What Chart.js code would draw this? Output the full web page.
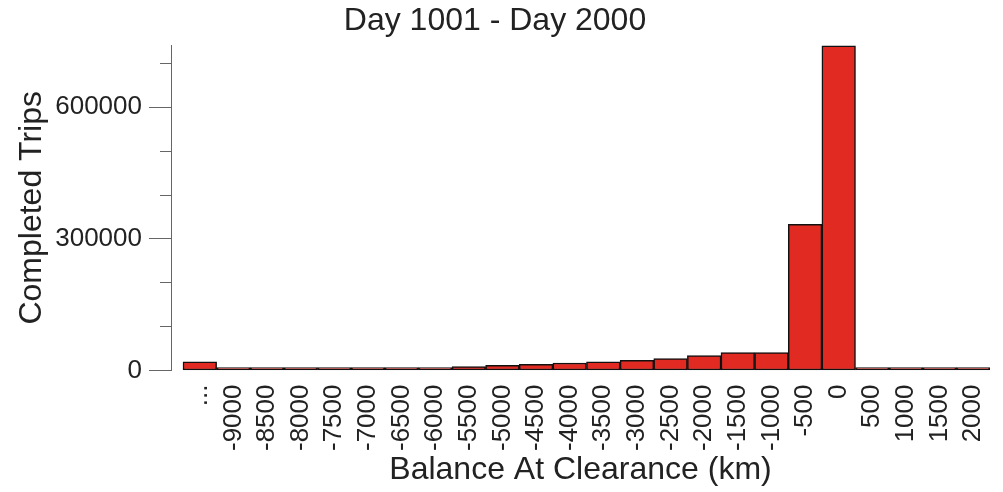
<!DOCTYPE html>
<html>
<head>
<meta charset="utf-8">
<script src="https://cdn.jsdelivr.net/npm/chart.js@4.4.0/dist/chart.umd.min.js"></script>
<style>
  html, body { margin: 0; padding: 0; background: #fff; }
  canvas { display: block; }
</style>
</head>
<body>
<canvas id="hist" width="1003" height="492"></canvas>
<script>
// DATI ----------------------------------------
var balanceLabels = ['...', '-9000', '-8500', '-8000', '-7500', '-7000', '-6500', '-6000',
  '-5500', '-5000', '-4500', '-4000', '-3500', '-3000', '-2500', '-2000', '-1500', '-1000',
  '-500', '0', '500', '1000', '1500', '2000'];
var completedTrips = [20000, 1000, 1500, 2000, 2500, 3500, 4500, 6500,
  9000, 12000, 14000, 17000, 20000, 23000, 27000, 34000, 41000, 41000,
  333000, 740000, 1200, 600, 300, 200];
var yLabelTicks = [0, 300000, 600000];
var yMinorStep = 100000;
var yMax = 742000;

var textColor = '#222';
var axisColor = '#666';
var fontFamily = '"Liberation Sans", Arial, sans-serif';

// GRAFICO ----------------------------------------
var ctx = document.getElementById('hist');
var chart = new Chart(ctx, {
  type: 'bar',
  data: {
    datasets: [{
      data: balanceLabels.map(function(l, i){ return {x: i, y: completedTrips[i]}; }),
      backgroundColor: '#e12a22',
      borderColor: '#111',
      borderWidth: 1.5,
      borderSkipped: false,
      minBarLength: 3,
      categoryPercentage: 1,
      barPercentage: 1
    }]
  },
  options: {
    responsive: false,
    animation: false,
    layout: { padding: { top: 0, right: 13, bottom: 0, left: 0 } },
    plugins: {
      legend: { display: false },
      tooltip: { enabled: false },
      title: {
        display: true,
        text: 'Day 1001 - Day 2000',
        color: textColor,
        font: { family: fontFamily, size: 32, weight: 'normal' },
        padding: { top: 2, bottom: 4.6 }
      }
    },
    scales: {
      x: {
        type: 'linear',
        offset: false,
        min: -0.857,
        max: balanceLabels.length - 0.5,
        grid: { display: false, drawTicks: false },
        border: { display: false },
        afterBuildTicks: function(scale){
          scale.ticks = balanceLabels.map(function(l, i){ return {value: i}; });
        },
        afterFit: function(scale){
          scale.height = 121.5;
          scale.paddingLeft = 0;
          scale.paddingRight = 0;
        },
        ticks: {
          autoSkip: false,
          minRotation: 90,
          maxRotation: 90,
          padding: 14,
          color: textColor,
          font: { family: fontFamily, size: 26 },
          callback: function(v){ return balanceLabels[v]; }
        },
        title: {
          display: true,
          text: 'Balance At Clearance (km)',
          color: textColor,
          font: { family: fontFamily, size: 32 },
          padding: { top: 2, bottom: 3 }
        }
      },
      y: {
        min: 0,
        max: yMax,
        border: { display: true, color: axisColor, width: 1 },
        grid: {
          drawOnChartArea: false,
          drawTicks: true,
          tickLength: 22,
          tickColor: axisColor,
          tickWidth: 1,
          tickBorderDash: function(c){
            return yLabelTicks.indexOf(c.tick.value) >= 0 ? [] : [0, 11, 22];
          }
        },
        afterBuildTicks: function(scale){
          var t = [];
          for (var v = 0; v <= yMax; v += yMinorStep) t.push({value: v});
          scale.ticks = t;
        },
        afterFit: function(scale){ scale.width = 171; },
        ticks: {
          padding: 7,
          color: textColor,
          font: { family: fontFamily, size: 26 },
          callback: function(v){ return yLabelTicks.indexOf(v) >= 0 ? String(v) : ''; }
        },
        title: {
          display: true,
          text: 'Completed Trips',
          color: textColor,
          font: { family: fontFamily, size: 32 },
          padding: { top: 13, bottom: 0 }
        }
      }
    }
  }
});
</script>
</body>
</html>
